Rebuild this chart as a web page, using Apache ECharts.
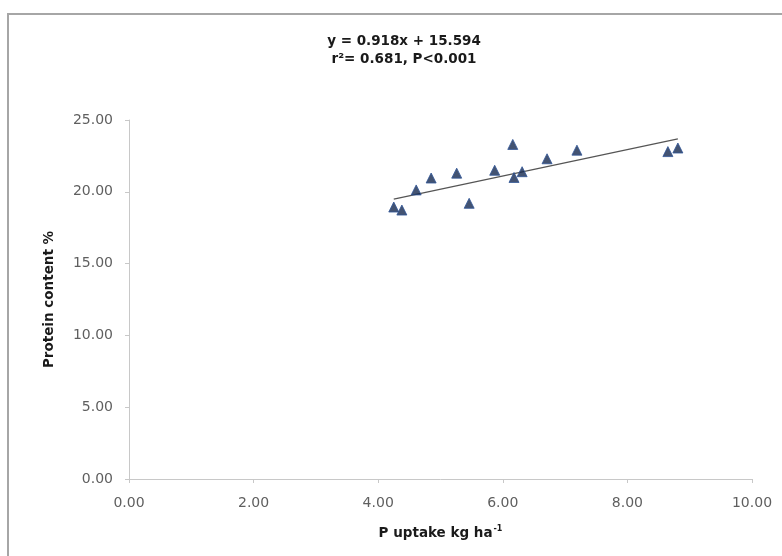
<!DOCTYPE html>
<html>
<head>
<meta charset="utf-8">
<script src="https://cdn.jsdelivr.net/npm/echarts@6/dist/echarts.min.js"></script>
<style>
  html, body { margin: 0; padding: 0; background: #fff; }
  #chart { width: 782px; height: 556px; }
</style>
</head>
<body>
<div id="chart"></div>
<script>
// P uptake (kg/ha) and protein content (%)
const pUptake = [4.25, 4.38, 4.61, 4.85, 5.26, 5.46, 5.87, 6.16, 6.18, 6.31, 6.71, 7.19, 8.65, 8.81]
const protein = [18.94, 18.73, 20.13, 20.96, 21.3, 19.2, 21.5, 23.3, 21.0, 21.4, 22.3, 22.9, 22.8, 23.05]
// fitted line y = 0.918x + 15.594
const slope = 0.918
const intercept = 15.594
const xTicks = [0, 2, 4, 6, 8, 10]
const yTicks = [0, 5, 10, 15, 20, 25]

const points = pUptake.map((x, i) => [x, protein[i]])
const xMin = Math.min(...pUptake)
const xMax = Math.max(...pUptake)
const trend = [[xMin, slope * xMin + intercept], [xMax, slope * xMax + intercept]]

const labelFont = '"DejaVu Sans", "Liberation Sans", sans-serif'

const chart = echarts.init(document.getElementById('chart'))
chart.setOption({
  animation: false,
  grid: { left: 129, top: 120, right: 30, bottom: 77 },
  graphic: [
    {
      type: 'rect',
      shape: { x: 8, y: 14, width: 820, height: 600 },
      style: { fill: 'none', stroke: '#a6a6a6', lineWidth: 2 },
      silent: true
    },
    {
      type: 'text',
      x: 404, y: 32,
      style: {
        text: 'y = 0.918x + 15.594\nr\u00b2= 0.681, P<0.001',
        textAlign: 'center',
        font: 'bold 13.5px ' + labelFont,
        lineHeight: 18,
        fill: '#1a1a1a'
      }
    }
  ],
  xAxis: {
    type: 'value',
    min: xTicks[0],
    max: xTicks[xTicks.length - 1],
    interval: 2,
    name: 'P uptake kg ha{sup|-1}',
    nameLocation: 'middle',
    nameGap: 46,
    nameTextStyle: {
      fontFamily: labelFont, fontWeight: 'bold', fontSize: 13.5, color: '#1a1a1a',
      rich: { sup: { fontSize: 8, fontWeight: 'bold', verticalAlign: 'top', padding: [0, 0, 8, 1], fontFamily: labelFont } }
    },
    axisLine: { lineStyle: { color: '#c8c8c8' } },
    axisTick: { show: true, length: 4, lineStyle: { color: '#c8c8c8' } },
    splitLine: { show: false },
    axisLabel: {
      fontFamily: labelFont, fontSize: 14, color: '#5f5f5f', margin: 17,
      formatter: v => v.toFixed(2)
    }
  },
  yAxis: {
    type: 'value',
    min: yTicks[0],
    max: yTicks[yTicks.length - 1],
    interval: 5,
    name: 'Protein content %',
    nameLocation: 'middle',
    nameGap: 73,
    nameTextStyle: { fontFamily: labelFont, fontWeight: 'bold', fontSize: 13.5, color: '#1a1a1a' },
    axisLine: { show: true, lineStyle: { color: '#c8c8c8' } },
    axisTick: { show: true, length: 4, lineStyle: { color: '#c8c8c8' } },
    splitLine: { show: false },
    axisLabel: {
      fontFamily: labelFont, fontSize: 14, color: '#5f5f5f', margin: 16,
      formatter: v => v.toFixed(2)
    }
  },
  series: [
    {
      type: 'scatter',
      data: points,
      symbol: 'triangle',
      symbolSize: 10,
      itemStyle: { color: '#14284f', borderColor: '#2f5597', borderWidth: 1 },
      z: 3
    },
    {
      type: 'line',
      data: trend,
      symbol: 'none',
      lineStyle: { color: '#555555', width: 1.2 },
      z: 2
    }
  ]
})
</script>
</body>
</html>
